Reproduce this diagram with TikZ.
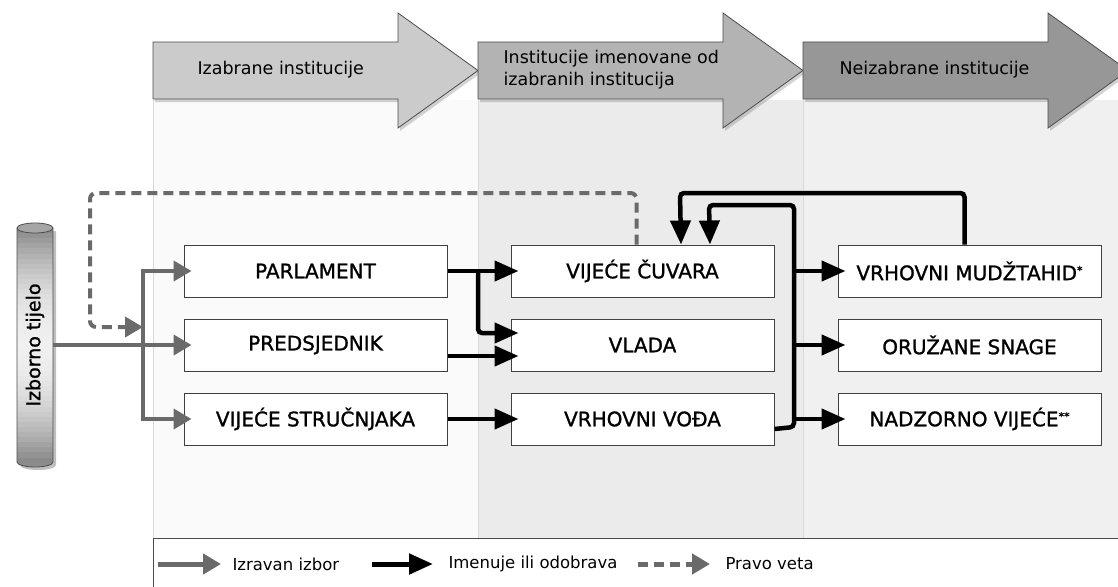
\documentclass[tikz,border=0pt]{standalone}
\usepackage{fontspec}
\setmainfont{DejaVu Sans}
\newfontfamily\boxfont[FakeBold=1.2]{DejaVu Sans}
\usetikzlibrary{positioning,calc,arrows.meta,shadows}

\definecolor{electgray}{HTML}{6A6A6A}
\definecolor{phaseA}{HTML}{CBCBCB}
\definecolor{phaseB}{HTML}{B3B3B3}
\definecolor{phaseC}{HTML}{979797}

\tikzset{
  inst/.style={draw=black!75, line width=1pt, fill=white, minimum width=263pt,
    minimum height=52pt, inner sep=0pt, font=\boxfont\fontsize{20}{24}\selectfont},
  elect/.style={draw=electgray, line width=4pt, -{Triangle[length=18pt,width=20pt]}},
  appoint/.style={draw=black, line width=4.5pt, -{Triangle[length=24pt,width=20pt]},
    rounded corners=4pt},
  veto/.style={draw=electgray, line width=4pt, dash pattern=on 10pt off 6pt,
    rounded corners=6pt, -{Triangle[length=18pt,width=20pt]}},
  into/.style={shorten >=-8pt},
  phase/.style={draw=black!70, line width=0.8pt,
    drop shadow={opacity=0.35, shadow xshift=2pt, shadow yshift=-3pt}},
  phaselabel/.style={font=\fontsize{17.5}{22}\selectfont, anchor=west, align=left},
  legendtext/.style={font=\fontsize{16.5}{20}\selectfont, anchor=west},
}

\begin{document}
\begin{tikzpicture}[x=1pt, y=-1pt]
  \useasboundingbox (0,0) rectangle (1118,586);

  % column backgrounds
  \fill[black!2] (153,100) rectangle (478,538);
  \fill[black!8] (478,100) rectangle (803,538);
  \fill[black!6] (803,100) rectangle (1118,538);
  \foreach \x in {153,478,803}
    \draw[black!15, line width=0.8pt] (\x,100) -- (\x,538);

  % phase arrows on top
  \foreach \x/\c in {153/phaseA, 478/phaseB, 803/phaseC}
    \filldraw[phase, fill=\c] (\x,42) -- ++(245,0) -- ++(0,-29) -- ++(80,57.5)
      -- ++(-80,57.5) -- ++(0,-29) -- ++(-245,0) -- cycle;
  \node[phaselabel] (phElected) at (194,70) {Izabrane institucije};
  \node[phaselabel] (phAppointed) at (500,70) {Institucije imenovane od\\izabranih institucija};
  \node[phaselabel] (phUnelected) at (836,70) {Neizabrane institucije};

  % electorate (cylinder)
  \fill[black, opacity=0.25] (20,231) -- (20,465) arc[start angle=180, end angle=360, x radius=18pt, y radius=5pt]
    -- (56,231) -- cycle;
  \fill[black!45] (17,462) arc[start angle=180, end angle=360, x radius=18pt, y radius=5pt] -- cycle;
  \foreach \i in {0,...,45} {
    \pgfmathsetmacro{\d}{abs(\i-22.5)/22.5}
    \pgfmathsetmacro{\p}{6+40*\d*\d}
    \fill[black!\p] (17,228+5.1*\i) rectangle (53,228+5.1*\i+5.6);
  }
  \draw[black!70, line width=0.8pt]
    (17,228) -- (17,462) arc[start angle=180, end angle=360, x radius=18pt, y radius=5pt]
    -- (53,228);
  \draw[black!70, line width=0.8pt, fill=black!35] (35,228) ellipse [x radius=18pt, y radius=5pt];
  \node[rotate=90, minimum width=244pt, minimum height=36pt, inner sep=0pt,
    font=\boxfont\fontsize{19}{22}\selectfont] (voters) at (35,345) {Izborno tijelo};

  % institutions
  \node[inst] (parl) at (315.5,271) {PARLAMENT};
  \node[inst, below=21pt of parl] (pres) {PREDSJEDNIK};
  \node[inst, below=21pt of pres] (experts) {VIJEĆE STRUČNJAKA};
  \node[inst, right=63pt of parl] (guard) {VIJEĆE ČUVARA};
  \node[inst, right=63pt of pres] (govt) {VLADA};
  \node[inst, right=63pt of experts] (leader) {VRHOVNI VOĐA};
  \node[inst, right=63pt of guard] (mujt) {VRHOVNI MUDŽTAHID{\fontsize{11}{11}\selectfont\raisebox{6pt}{*}}};
  \node[inst, right=63pt of govt] (army) {ORUŽANE SNAGE};
  \node[inst, right=63pt of leader] (council) {NADZORNO VIJEĆE{\fontsize{11}{11}\selectfont\raisebox{6pt}{**}}};

  % direct election
  \coordinate (split) at (143,345);
  \coordinate (vetoend) at (143,327);
  \draw[elect, into] (voters.south) -- (pres.west);
  \draw[elect, into] (split) |- (parl.west);
  \draw[elect, into] (split) |- (experts.west);

  % veto
  \draw[veto] ($(guard.north)+(-6,0)$) |- (90,193) |- (vetoend);

  % appointments
  \draw[appoint, into] (parl.east) -- (guard.west);
  \draw[appoint, into] (478,271) |- ($(govt.west)+(0,-12)$);
  \draw[appoint, into] ($(pres.east)+(0,11)$) -- ($(govt.west)+(0,11)$);
  \draw[appoint, into] (experts.east) -- (leader.west);
  \coordinate (bus) at (794,427);
  \draw[appoint] ($(leader.east)+(0,10)$) -- (bus) |- (709,205) -- ($(guard.north)+(67.5,0)$);
  \foreach \n in {mujt, army, council}
    \draw[appoint, into] (\n.west -| bus) -- (\n.west);
  \draw[appoint] ($(mujt.north)+(-5,0)$) |- (680,193) -- ($(guard.north)+(38.5,0)$);

  % legend
  \draw[black!70, line width=1pt, fill=white] (153,538) rectangle (1125,592);
  \node[legendtext] (lgElect) at (229,564) {Izravan izbor};
  \node[legendtext] (lgAppoint) at (445,564) {Imenuje ili odobrava};
  \node[legendtext] (lgVeto) at (722,564) {Pravo veta};
  \draw[elect, line width=5pt] ([xshift=-71pt]lgElect.west) -- ([xshift=-8pt]lgElect.west);
  \draw[appoint, line width=5pt] ([xshift=-73pt]lgAppoint.west) -- ([xshift=-12pt]lgAppoint.west);
  \draw[veto, line width=5pt] ([xshift=-84pt]lgVeto.west) -- ([xshift=-12pt]lgVeto.west);
\end{tikzpicture}
\end{document}
